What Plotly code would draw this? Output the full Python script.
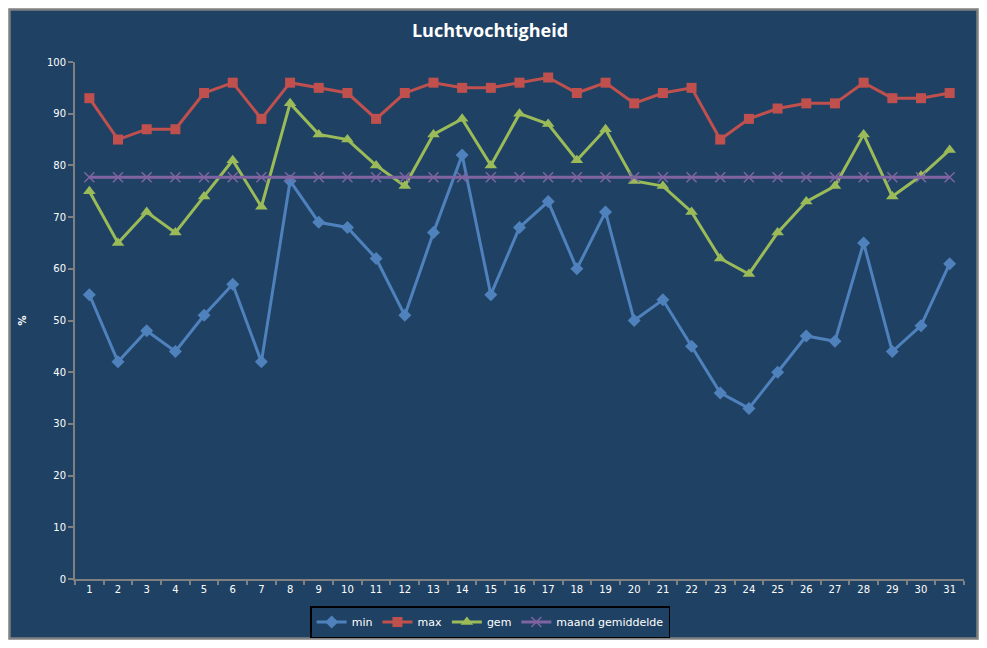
import plotly.graph_objects as go

# Dagen van de maand
dagen = [str(d) for d in range(1, 32)]

# Luchtvochtigheid in %
hum_min = [55, 42, 48, 44, 51, 57, 42, 77, 69, 68, 62, 51, 67, 82, 55, 68,
           73, 60, 71, 50, 54, 45, 36, 33, 40, 47, 46, 65, 44, 49, 61]
hum_max = [93, 85, 87, 87, 94, 96, 89, 96, 95, 94, 89, 94, 96, 95, 95, 96,
           97, 94, 96, 92, 94, 95, 85, 89, 91, 92, 92, 96, 93, 93, 94]
hum_gem = [75, 65, 71, 67, 74, 81, 72, 92, 86, 85, 80, 76, 86, 89, 80, 90,
           88, 81, 87, 77, 76, 71, 62, 59, 67, 73, 76, 86, 74, 78, 83]
maand_gem = [77.7, 77.7, 77.7, 77.7, 77.7, 77.7, 77.7, 77.7, 77.7, 77.7, 77.7,
             77.7, 77.7, 77.7, 77.7, 77.7, 77.7, 77.7, 77.7, 77.7, 77.7, 77.7,
             77.7, 77.7, 77.7, 77.7, 77.7, 77.7, 77.7, 77.7, 77.7]

bg = "#1F4264"
axis_col = "#808080"
txt = "#FFFFFF"

# pagina heeft 8px body-marge rondom, figuur past dan precies in het venster
W, H = 971, 632
ml, mr, mt, mb = 67, 15, 54, 61
pw, ph = W - ml - mr, H - mt - mb

fig = go.Figure()

fig.add_trace(go.Scatter(x=dagen, y=hum_min, name="min", mode="lines+markers",
                         line=dict(color="#4F81BD", width=3),
                         marker=dict(symbol="diamond", size=10, color="#4F81BD")))
fig.add_trace(go.Scatter(x=dagen, y=hum_max, name="max", mode="lines+markers",
                         line=dict(color="#C0504D", width=3),
                         marker=dict(symbol="square", size=10, color="#C0504D")))
fig.add_trace(go.Scatter(x=dagen, y=hum_gem, name="gem", mode="lines+markers",
                         line=dict(color="#9BBB59", width=3),
                         marker=dict(symbol="triangle-up", size=11, color="#9BBB59")))
fig.add_trace(go.Scatter(x=dagen, y=maand_gem, name="maand gemiddelde", mode="lines+markers",
                         line=dict(color="#8064A2", width=3),
                         marker=dict(symbol="x-thin-open", size=10,
                                     line=dict(color="#8064A2", width=1.5))))

# Achtergrondkader zoals in Excel
fig.add_shape(type="rect", xref="paper", yref="paper",
              x0=(1.5 - ml) / pw, x1=(W - 1.5 - ml) / pw,
              y0=-(H - 1.5 - mt - ph) / ph, y1=(H - mb - 1.5) / ph,
              fillcolor=bg, line=dict(color=axis_col, width=2.5), layer="below")

fig.update_layout(
    width=W, height=H,
    margin=dict(l=ml, r=mr, t=mt, b=mb, autoexpand=False),
    paper_bgcolor="white",
    plot_bgcolor="rgba(0,0,0,0)",
    font=dict(family="DejaVu Sans", size=10, color=txt),
    title=dict(text="<b>Luchtvochtigheid</b>", x=(482 - ml) / pw, xanchor="center",
               xref="paper", y=1 - 23 / H, yanchor="middle",
               font=dict(family="Open Sans", size=18, color=txt)),
    showlegend=True,
    legend=dict(orientation="h", x=0.467, xanchor="center", y=-27 / ph, yanchor="top",
                bgcolor=bg, bordercolor="black", borderwidth=1.5,
                font=dict(family="DejaVu Sans", size=11, color=txt)),
    xaxis=dict(type="category", range=[-0.5, 30.5], showgrid=False,
               showline=True, linecolor=axis_col, linewidth=2,
               ticks="outside", tickson="boundaries", ticklen=4,
               tickcolor=axis_col, tickwidth=2, zeroline=False),
    yaxis=dict(range=[0, 100], dtick=10, showgrid=False, zeroline=False,
               showline=True, linecolor=axis_col, linewidth=2,
               ticks="outside", ticklen=5, tickcolor=axis_col, tickwidth=2,
               title=dict(text="<b>%</b>", standoff=18,
                          font=dict(family="DejaVu Sans", size=10, color=txt))),
)

fig.write_html("out.html")
